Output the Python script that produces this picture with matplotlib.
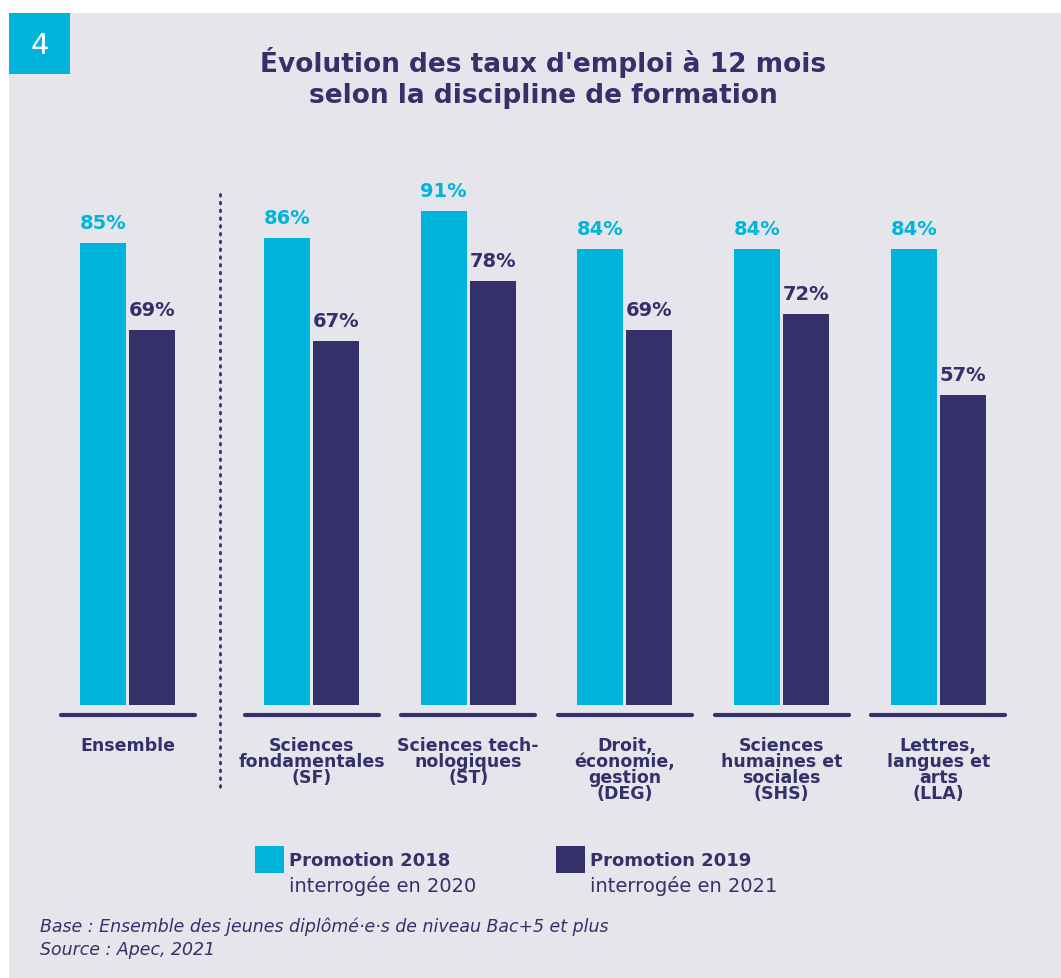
import matplotlib
matplotlib.use("Agg")
import matplotlib.pyplot as plt
from matplotlib.patches import Rectangle
import numpy as np

# data
categories = ["Ensemble", "Sciences\nfondamentales\n(SF)", "Sciences tech-\nnologiques\n(ST)",
              "Droit,\néconomie,\ngestion\n(DEG)", "Sciences\nhumaines et\nsociales\n(SHS)",
              "Lettres,\nlangues et\narts\n(LLA)"]
promo_2018 = [85, 86, 91, 84, 84, 84]
promo_2019 = [69, 67, 78, 69, 72, 57]
series_names = ["Promotion 2018", "Promotion 2019"]
series_sub = ["interrogée en 2020", "interrogée en 2021"]

CYAN = "#00b5dc"
NAVY = "#33306a"
BG = "#e6e5ec"

W, H = 1061, 979
plt.rcParams['font.family'] = ['DejaVu Sans']

fig = plt.figure(figsize=(W / 100, H / 100), dpi=100, facecolor="white")


def fx(x):
    return x / W


def fy(y):
    return 1 - y / H


# background panel and badge
fig.patches.append(Rectangle((fx(9), 0), 1 - fx(9), fy(14), transform=fig.transFigure,
                             facecolor=BG, edgecolor="none", zorder=-2))
fig.patches.append(Rectangle((fx(9), fy(75)), fx(61), 61 / H, transform=fig.transFigure,
                             facecolor=CYAN, edgecolor="none", zorder=-1))
fig.text(fx(40), fy(46), "4", color="white", fontsize=21, ha="center", va="center")

fig.text(fx(543), fy(63), "Évolution des taux d'emploi à 12 mois", color=NAVY,
         fontsize=19, fontweight="bold", ha="center", va="center")
fig.text(fx(543), fy(96), "selon la discipline de formation", color=NAVY,
         fontsize=19, fontweight="bold", ha="center", va="center")

# bars axis: x in pixels, y in percent (0 at pixel 706, 5.43 px per %)
ax = fig.add_axes([0, 0, 1, 1])
ax.patch.set_alpha(0)
ax.set_axis_off()
pxp = 5.43
base = 706
ax.set_xlim(0, W)
ax.set_ylim((base - H) / pxp, base / pxp)

centers = np.array([127.5] + [311.5 + i * 156.7 for i in range(5)])
bw = 46
off = 24.5
ax.bar(centers - off, promo_2018, width=bw, color=CYAN, zorder=2)
ax.bar(centers + off, promo_2019, width=bw, color=NAVY, zorder=2)

for c, v1, v2 in zip(centers, promo_2018, promo_2019):
    ax.annotate(f"{v1}%", (c - off, v1), xytext=(0, 8), textcoords="offset points",
                ha="center", va="bottom", color=CYAN, fontsize=14, fontweight="bold")
    ax.annotate(f"{v2}%", (c + off, v2), xytext=(0, 8), textcoords="offset points",
                ha="center", va="bottom", color=NAVY, fontsize=14, fontweight="bold")
    ax.plot([c - 67, c + 67], [-9.5 / pxp, -9.5 / pxp], color=NAVY, lw=3,
            solid_capstyle="round", zorder=2)

for c, lab in zip(centers, categories):
    fig.text(fx(c), fy(737), lab, color=NAVY, fontsize=12.5, fontweight="bold",
             ha="center", va="top", linespacing=0.85)

# dotted separator
fig.add_artist(plt.Line2D([fx(220), fx(220)], [fy(195), fy(792)], color=NAVY,
                          lw=2, linestyle=(0, (0.6, 2.2)), dash_capstyle="round"))

# legend
for x0, col, name, sub in zip([255, 556], [CYAN, NAVY], series_names, series_sub):
    fig.patches.append(Rectangle((fx(x0), fy(874)), 29 / W, 27 / H, transform=fig.transFigure,
                                 facecolor=col, edgecolor="none"))
    fig.text(fx(x0 + 34), fy(861), name, color=NAVY, fontsize=13, fontweight="bold",
             va="center", ha="left")
    fig.text(fx(x0 + 34), fy(886), sub, color=NAVY, fontsize=14, va="center", ha="left")

fig.text(fx(40), fy(927), "Base : Ensemble des jeunes diplômé·e·s de niveau Bac+5 et plus",
         color=NAVY, fontsize=12.5, style="italic", va="center")
fig.text(fx(40), fy(950), "Source : Apec, 2021", color=NAVY, fontsize=12.5, style="italic",
         va="center")

fig.savefig("out.png", dpi=100, facecolor="white")
